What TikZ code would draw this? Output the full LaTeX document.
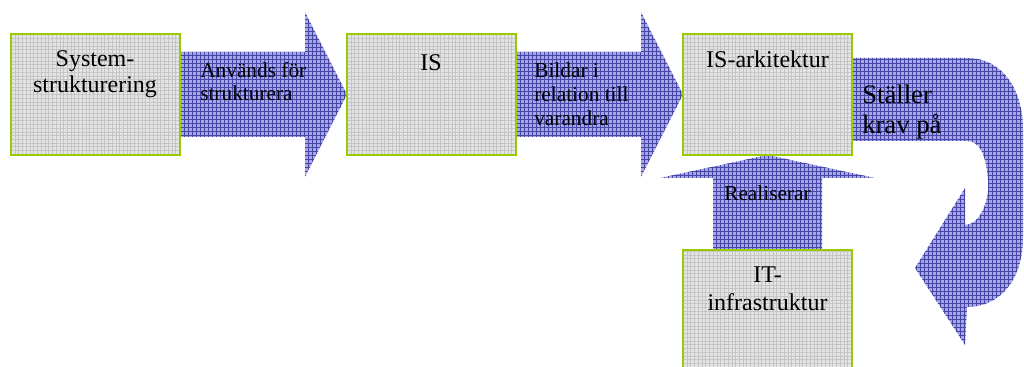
\documentclass[tikz,border=0pt]{standalone}
\usepackage{fontspec}
\setmainfont{Liberation Serif}
\usetikzlibrary{patterns.meta,backgrounds}
\definecolor{arrowbg}{HTML}{A6A6E6}
\definecolor{arrowline}{HTML}{4646A6}
\definecolor{boxbg}{HTML}{E4E4E4}
\definecolor{boxline}{HTML}{C4C4C4}
\definecolor{boxgreen}{HTML}{99CC00}
\begin{document}
\begin{tikzpicture}[x=0.75pt,y=-0.75pt,
  blockarrow/.style={fill=arrowbg, postaction={pattern={Hatch[angle=0,distance=3pt,line width=0.4pt]}, pattern color=arrowline}},
  box/.style={draw=boxgreen, line width=1.5pt, preaction={fill=boxbg}, preaction={pattern={Hatch[angle=0,distance=2.8pt,line width=0.35pt]}, pattern color=boxline}, minimum width=126.75pt, minimum height=90.75pt, inner sep=0pt},
  boxtext/.style={font=\fontsize{18}{19.5}\selectfont, align=center, inner sep=0pt, anchor=north},
  arrowtext/.style={font=\fontsize{16}{17.25}\selectfont, align=left, inner sep=0pt, anchor=north west},
]
\path[use as bounding box, clip] (0,0) rectangle (1024,367);

% boxes
\node[box] (sys) at (95,94.5) {};
\node[box] (is) at (431,94.5) {};
\node[box] (isa) at (767.5,94.5) {};
\node[box, minimum height=92.25pt] (it) at (767.5,311.5) {};

% block arrows behind the boxes
\begin{scope}[on background layer]
\path[blockarrow] (180,52) -- (305,52) -- (305,12) -- (347,94.5) -- (305,177) -- (305,137) -- (180,137) -- cycle;
\path[blockarrow] (515,52) -- (641,52) -- (641,12) -- (683,94.5) -- (641,177) -- (641,137) -- (515,137) -- cycle;
\path[blockarrow] (713,250) -- (713,178) -- (660,178) -- (767.5,155) -- (875,178) -- (822,178) -- (822,250) -- cycle;
\path[blockarrow] (852,58) -- (967,58) .. controls (1003,58) and (1023,90) .. (1023,130) -- (1023,237) .. controls (1023,280) and (1000,307) .. (967,307) -- (965,345) -- (915,268) -- (965,188) -- (965,225) .. controls (980,225) and (990,200) .. (988,180) .. controls (986,155) and (980,141) .. (967,141) -- (852,141) -- cycle;
\end{scope}

% texts
\node[boxtext] (t1) at (95,50.5) {System-\\strukturering};
\node[boxtext] (t2) at (431,54) {IS};
\node[boxtext] (t3) at (767.5,50.5) {IS-arkitektur};
\node[boxtext, font=\fontsize{18}{21}\selectfont] (t4) at (767.5,267) {IT-\\infrastruktur};
\node[arrowtext] (l1) at (200,62.4) {Används för\\strukturera};
\node[arrowtext, font=\fontsize{16}{18}\selectfont] (l2) at (534,62.4) {Bildar i\\relation till\\varandra};
\node[arrowtext, font=\fontsize{20}{22.5}\selectfont] (l3) at (862,85) {Ställer\\krav på};
\node[arrowtext, anchor=north] (l4) at (767.5,185.4) {Realiserar};
\end{tikzpicture}
\end{document}
